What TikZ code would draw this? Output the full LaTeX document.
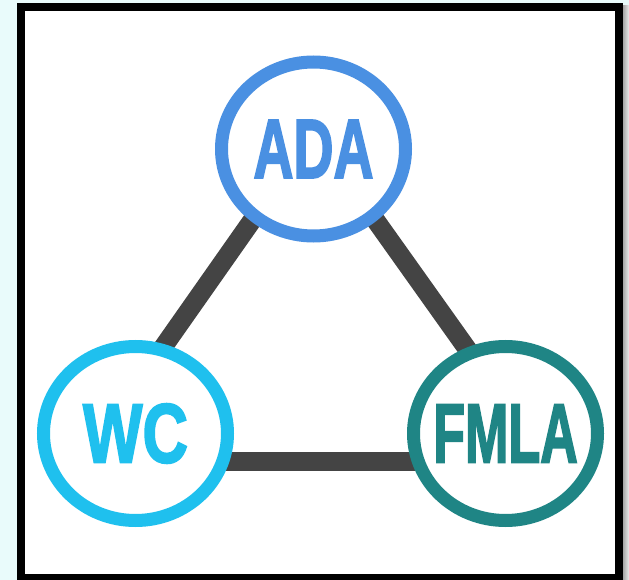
\documentclass[tikz,border=0pt]{standalone}
\usepackage{fontspec}
\usetikzlibrary{shapes.geometric,positioning,calc,backgrounds}
\newfontfamily\labelfont{Liberation Sans}[FakeBold=2.5]
\newcommand{\lawname}[2]{\makebox[0pt]{\scalebox{#1}[1]{#2}}}
\definecolor{adablue}{RGB}{74,144,226}
\definecolor{wcblue}{RGB}{31,192,238}
\definecolor{fmlateal}{RGB}{31,133,133}
\definecolor{linkgray}{RGB}{68,68,68}
\definecolor{pagecyan}{RGB}{233,251,251}

\begin{document}
\begin{tikzpicture}[x=1pt, y=-1pt]
\tikzstyle{law}=[ellipse, draw, fill=white, line width=13pt, inner sep=0pt,
  minimum width=184pt, minimum height=174pt,
  font=\labelfont\bfseries\fontsize{84}{84}\selectfont]
\tikzstyle{link}=[draw=linkgray, line width=19pt]
\useasboundingbox (0,0) rectangle (629,580);
\node[law, draw=adablue, text=adablue]     (ada)  at (313.5,149)  {\lawname{0.66}{ADA}};
\node[law, draw=wcblue, text=wcblue]       (wc)   at (135.5,433.5) {\lawname{0.75}{WC}};
\node[law, draw=fmlateal, text=fmlateal]   (fmla) at (505.5,433.5) {\lawname{0.62}{FMLA}};
\begin{scope}[on background layer]
\fill[pagecyan] (0,0) rectangle (629,580);
\shade[left color=gray!70, right color=gray!15] (623,6) rectangle (629,580);
\draw[line width=8pt, fill=white] (21,7) rectangle (619,578);
%
\draw[link] ($(ada)+(0,-16)$) -- ($(wc)+(-9.5,-33.5)$);
\draw[link] ($(ada)+(0,-16)$) -- ($(fmla)+(-2,-33.5)$);
\draw[link] ($(wc)+(0,27.5)$) -- ($(fmla)+(0,27.5)$);
\end{scope}
\end{tikzpicture}
\end{document}
